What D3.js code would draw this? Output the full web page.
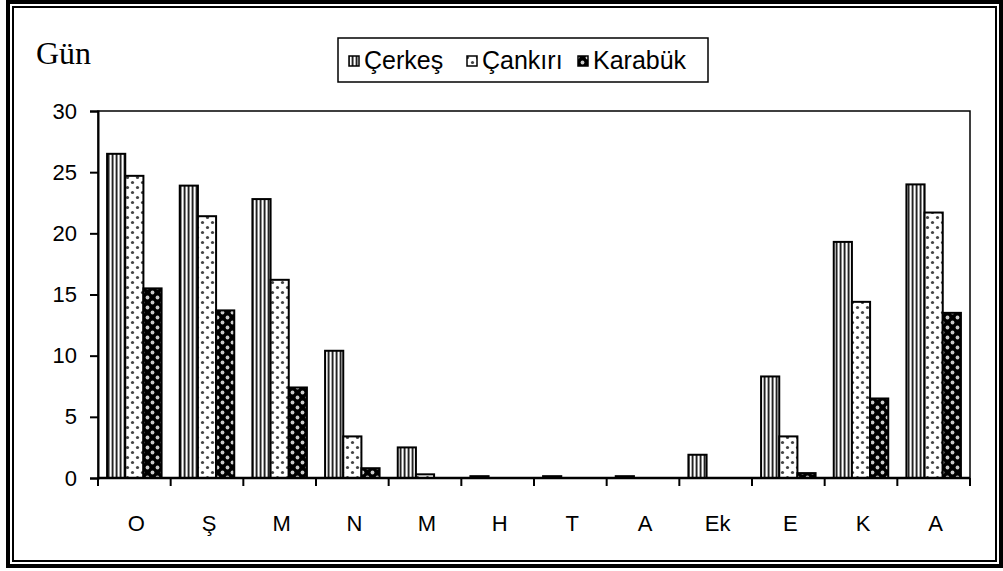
<!DOCTYPE html>
<html lang="tr">
  <head>
    <meta charset="utf-8">
    <title>Gün</title>
    <script src="https://d3js.org/d3.v7.min.js"></script>
    <style>
      body { margin: 0; background: #fff; }
      text { font-family: "Liberation Sans", Arial, sans-serif; }
    </style>
  </head>
  <body>
    <script>
      var months = ["O", "Ş", "M", "N", "M", "H", "T", "A", "Ek", "E", "K", "A"]
      var seriesNames = ["Çerkeş", "Çankırı", "Karabük"]
      var cerkes = [26.5, 23.9, 22.8, 10.4, 2.5, 0.15, 0.15, 0.15, 1.9, 8.3, 19.3, 24.0]
      var cankiri = [24.7, 21.4, 16.2, 3.4, 0.3, 0, 0, 0, 0, 3.4, 14.4, 21.7]
      var karabuk = [15.5, 13.7, 7.4, 0.8, 0, 0, 0, 0, 0, 0.4, 6.5, 13.5]
      var yTicks = [0, 5, 10, 15, 20, 25, 30]

      var width = 1003
      var height = 571
      var plotLeft = 98, plotRight = 970, plotTop = 111, plotBottom = 478

      var svg = d3.select("body").append("svg")
        .attr("width", width)
        .attr("height", height)

      // patterns
      var defs = svg.append("defs")
      var p1 = defs.append("pattern").attr("id", "pCerkes")
        .attr("patternUnits", "userSpaceOnUse").attr("width", 4).attr("height", 4)
      p1.append("rect").attr("width", 4).attr("height", 4).attr("fill", "#fff")
      p1.append("rect").attr("x", 0).attr("width", 1).attr("height", 4).attr("fill", "#222")
      p1.append("rect").attr("x", 1).attr("width", 1).attr("height", 4).attr("fill", "#888")
      p1.append("rect").attr("x", 3).attr("width", 1).attr("height", 4).attr("fill", "#aaa")

      var p2 = defs.append("pattern").attr("id", "pCankiri")
        .attr("patternUnits", "userSpaceOnUse").attr("width", 10).attr("height", 10)
      p2.append("rect").attr("width", 10).attr("height", 10).attr("fill", "#fff")
      p2.append("circle").attr("cx", 2.5).attr("cy", 2.5).attr("r", 1.6).attr("fill", "#444")
      p2.append("circle").attr("cx", 7.5).attr("cy", 7.5).attr("r", 1.6).attr("fill", "#444")

      var p3 = defs.append("pattern").attr("id", "pKarabuk")
        .attr("patternUnits", "userSpaceOnUse").attr("width", 10).attr("height", 10)
      p3.append("rect").attr("width", 10).attr("height", 10).attr("fill", "#000")
      p3.append("circle").attr("cx", 2.5).attr("cy", 2.5).attr("r", 1.9).attr("fill", "#ccc")
      p3.append("circle").attr("cx", 7.5).attr("cy", 7.5).attr("r", 1.9).attr("fill", "#ccc")

      var fills = ["url(#pCerkes)", "url(#pCankiri)", "url(#pKarabuk)"]
      var series = [cerkes, cankiri, karabuk]

      // frame
      svg.append("rect").attr("x", 8).attr("y", 2).attr("width", 993).attr("height", 564)
        .attr("fill", "none").attr("stroke", "#000").attr("stroke-width", 4)
      svg.append("rect").attr("x", 13).attr("y", 7).attr("width", 983).attr("height", 554)
        .attr("fill", "none").attr("stroke", "#000").attr("stroke-width", 2)

      var x0 = d3.scaleBand()
        .domain(d3.range(months.length))
        .range([plotLeft, plotRight])
        .paddingInner(0.25)
        .paddingOuter(0.125)
      var x1 = d3.scaleBand()
        .domain(d3.range(seriesNames.length))
        .range([0, x0.bandwidth()])
      var y = d3.scaleLinear().domain([0, 30]).range([plotBottom, plotTop])

      // plot frame
      svg.append("rect").attr("x", plotLeft).attr("y", plotTop)
        .attr("width", plotRight - plotLeft).attr("height", plotBottom - plotTop)
        .attr("fill", "none").attr("stroke", "#000").attr("stroke-width", 1.5)

      // bars
      series.forEach(function(vals, s) {
        svg.append("g").selectAll("rect")
          .data(vals)
          .enter()
          .append("rect")
            .attr("x", function(d, i) { return x0(i) + x1(s) })
            .attr("y", function(d) { return y(d) })
            .attr("width", x1.bandwidth())
            .attr("height", function(d) { return y(0) - y(d) })
            .attr("fill", fills[s])
            .attr("stroke", "#000")
            .attr("stroke-width", function(d) { return d > 0 ? 2 : 0 })
      })

      // y axis
      var yAxis = svg.append("g")
        .attr("transform", "translate(" + plotLeft + ",0)")
        .call(d3.axisLeft(y).tickValues(yTicks).tickSize(8).tickPadding(13))
      yAxis.select(".domain").attr("stroke-width", 2)
      yAxis.selectAll(".tick line").attr("stroke-width", 2)
      yAxis.selectAll("text").style("font-size", "22px").attr("fill", "#000")
        .style("font-family", "'Liberation Sans', Arial, sans-serif")

      // x axis
      var xb = d3.scaleLinear().domain([0, months.length]).range([plotLeft, plotRight])
      var xAxis = svg.append("g")
        .attr("transform", "translate(0," + plotBottom + ")")
      xAxis.append("line").attr("x1", plotLeft).attr("x2", plotRight)
        .attr("stroke", "#000").attr("stroke-width", 2.5)
      xAxis.selectAll(".tk")
        .data(d3.range(months.length + 1))
        .enter()
        .append("line")
          .attr("x1", function(d) { return xb(d) })
          .attr("x2", function(d) { return xb(d) })
          .attr("y1", 0).attr("y2", 8)
          .attr("stroke", "#000").attr("stroke-width", 2)
      xAxis.selectAll(".lbl")
        .data(months)
        .enter()
        .append("text")
          .attr("x", function(d, i) { return x0(i) + x0.bandwidth() / 2 + 2 })
          .attr("y", 53)
          .attr("text-anchor", "middle")
          .style("font-size", "22px")
          .text(function(d) { return d })

      // Gün label
      svg.append("text")
        .attr("x", 36).attr("y", 64)
        .style("font-family", "'Liberation Serif', 'Times New Roman', serif")
        .style("font-size", "32px")
        .text("Gün")

      // legend
      var lg = svg.append("g")
      lg.append("rect").attr("x", 338).attr("y", 38).attr("width", 370).attr("height", 44)
        .attr("fill", "#fff").attr("stroke", "#000").attr("stroke-width", 1.5)
      var lx = [349, 467, 578]
      seriesNames.forEach(function(name, s) {
        lg.append("rect").attr("x", lx[s]).attr("y", 56).attr("width", 10).attr("height", 10)
          .attr("fill", fills[s]).attr("stroke", "#000").attr("stroke-width", 1.5)
        lg.append("text").attr("x", lx[s] + 15).attr("y", 69)
          .style("font-size", "25px")
          .text(name)
      })
    </script>
  </body>
</html>
